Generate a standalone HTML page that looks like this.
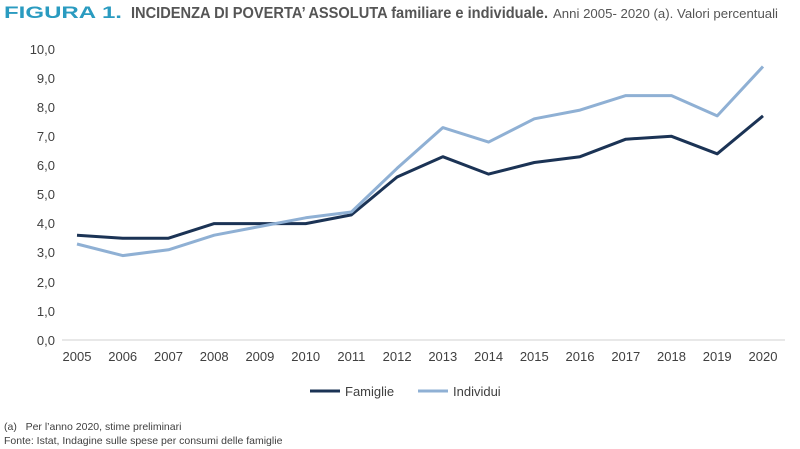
<!DOCTYPE html>
<html><head><meta charset="utf-8"><style>
body{margin:0;background:#fff;width:800px;height:449px;overflow:hidden}
svg{display:block}
</style></head><body>
<svg width="800" height="449" xmlns="http://www.w3.org/2000/svg" font-family="Liberation Sans, sans-serif">
<text x="4" y="18" font-size="17" font-weight="bold" fill="#2a9bc0" textLength="118" lengthAdjust="spacingAndGlyphs">FIGURA 1.</text>
<text x="131" y="18" font-size="16" font-weight="bold" fill="#555" textLength="417" lengthAdjust="spacingAndGlyphs">INCIDENZA DI POVERTA’ ASSOLUTA familiare e individuale.</text>
<text x="553" y="18" font-size="13" fill="#555" textLength="225" lengthAdjust="spacingAndGlyphs">Anni 2005- 2020 (a). Valori percentuali</text>
<g font-size="13" fill="#404040" text-anchor="end">
<text x="55" y="54">10,0</text><text x="55" y="83">9,0</text><text x="55" y="112">8,0</text><text x="55" y="141">7,0</text><text x="55" y="170">6,0</text><text x="55" y="199">5,0</text><text x="55" y="228">4,0</text><text x="55" y="257">3,0</text><text x="55" y="287">2,0</text><text x="55" y="316">1,0</text><text x="55" y="345">0,0</text>
</g>
<line x1="62" y1="340" x2="785" y2="340" stroke="#d0d0d0" stroke-width="1"/>
<g font-size="13" fill="#404040" text-anchor="middle">
<text x="77" y="361">2005</text><text x="122.7" y="361">2006</text><text x="168.5" y="361">2007</text><text x="214.2" y="361">2008</text><text x="259.9" y="361">2009</text><text x="305.7" y="361">2010</text><text x="351.4" y="361">2011</text><text x="397.1" y="361">2012</text><text x="442.8" y="361">2013</text><text x="488.6" y="361">2014</text><text x="534.3" y="361">2015</text><text x="580" y="361">2016</text><text x="625.8" y="361">2017</text><text x="671.5" y="361">2018</text><text x="717.2" y="361">2019</text><text x="763" y="361">2020</text>
</g>
<polyline fill="none" stroke="#1b3355" stroke-width="3" stroke-linejoin="round" points="77,235.2 122.7,238.2 168.5,238.2 214.2,223.6 259.9,223.6 305.7,223.6 351.4,214.9 397.1,177 442.8,156.7 488.6,174.1 534.3,162.5 580,156.7 625.8,139.2 671.5,136.3 717.2,153.8 763,115.9"/>
<polyline fill="none" stroke="#8fb0d4" stroke-width="3" stroke-linejoin="round" points="77,244 122.7,255.6 168.5,249.8 214.2,235.2 259.9,226.5 305.7,217.8 351.4,212 397.1,168.3 442.8,127.6 488.6,142.1 534.3,118.8 580,110.1 625.8,95.6 671.5,95.6 717.2,115.9 763,66.5"/>
<line x1="310" y1="391" x2="340" y2="391" stroke="#1b3355" stroke-width="3"/>
<text x="345" y="396" font-size="13" fill="#404040">Famiglie</text>
<line x1="418" y1="391" x2="448" y2="391" stroke="#8fb0d4" stroke-width="3"/>
<text x="453" y="396" font-size="13" fill="#404040">Individui</text>
<text x="4" y="430" font-size="10.5" fill="#404040">(a)&#160;&#160;&#160;Per l’anno 2020, stime preliminari</text>
<text x="4" y="444" font-size="10.5" fill="#404040">Fonte: Istat, Indagine sulle spese per consumi delle famiglie</text>
</svg>
</body></html>
